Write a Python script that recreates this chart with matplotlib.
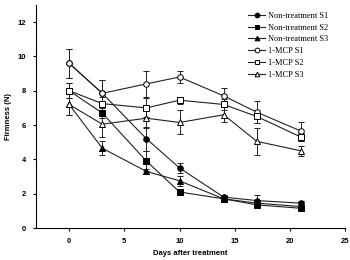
import matplotlib.pyplot as plt

# =========================================================
# DATA
# =========================================================

days = [0, 3, 7, 10, 14, 17, 21]

nt_s1 = [9.6, 7.85, 5.2, 3.5, 1.8, 1.6, 1.45]
nt_s2 = [8.0, 6.7, 3.9, 2.1, 1.7, 1.35, 1.15]
nt_s3 = [7.2, 4.65, 3.3, 2.75, 1.7, 1.45, 1.25]
mcp_s1 = [9.6, 7.85, 8.4, 8.8, 7.7, 6.75, 5.65]
mcp_s2 = [8.0, 7.25, 7.0, 7.45, 7.2, 6.5, 5.3]
mcp_s3 = [7.2, 6.05, 6.4, 6.15, 6.6, 5.05, 4.5]

nt_s1_err = [0.85, 0.8, 0.7, 0.3, 0.15, 0.3, 0.15]
nt_s2_err = [0.45, 0.3, 0.6, 0.15, 0.15, 0.15, 0.1]
nt_s3_err = [0.6, 0.4, 0.15, 0.3, 0.1, 0.15, 0.1]
mcp_s1_err = [0.85, 0.8, 0.75, 0.35, 0.45, 0.65, 0.55]
mcp_s2_err = [0.45, 0.4, 0.55, 0.2, 0.3, 0.4, 0.25]
mcp_s3_err = [0.6, 0.75, 0.6, 0.7, 0.45, 0.8, 0.3]

labels = ["Non-treatment S1", "Non-treatment S2", "Non-treatment S3",
          "1-MCP S1", "1-MCP S2", "1-MCP S3"]

# =========================================================
# PLOT
# =========================================================

fig = plt.figure(figsize=(3.5, 2.6), dpi=100)
ax = fig.add_axes([0.103, 0.123, 0.883, 0.858])

series = [
    (nt_s1, nt_s1_err, "o", "black"),
    (nt_s2, nt_s2_err, "s", "black"),
    (nt_s3, nt_s3_err, "^", "black"),
    (mcp_s1, mcp_s1_err, "o", "white"),
    (mcp_s2, mcp_s2_err, "s", "white"),
    (mcp_s3, mcp_s3_err, "^", "white"),
]

for (vals, errs, mk, fc), lab in zip(series, labels):
    ax.errorbar(days, vals, yerr=errs, marker=mk, markersize=4,
                markerfacecolor=fc, markeredgecolor="black",
                markeredgewidth=0.7, color="#222222", linewidth=0.8,
                ecolor="#222222", elinewidth=0.7, capsize=2.5,
                capthick=0.7, label=lab)

ax.set_xlim(-3, 25)
ax.set_ylim(0, 13)
ax.set_xticks([0, 5, 10, 15, 20, 25])
ax.set_yticks([0, 2, 4, 6, 8, 10, 12])

for side in ["top", "right"]:
    ax.spines[side].set_visible(False)
for side in ["left", "bottom"]:
    ax.spines[side].set_linewidth(0.8)

ax.tick_params(direction="out", length=2.5, width=0.8, labelsize=5.5,
               pad=5)
for t in ax.get_xticklabels() + ax.get_yticklabels():
    t.set_fontweight("bold")
    t.set_family("Liberation Sans")

ax.set_xlabel("Days after treatment", fontsize=5.5, fontweight="bold",
              family="Liberation Sans", labelpad=3)
ax.set_ylabel("Firmness (N)", fontsize=5.5, fontweight="bold",
              family="Liberation Sans", labelpad=4)

handles, _ = ax.get_legend_handles_labels()
handles = [h[0] for h in handles]
ax.legend(handles, labels, loc="upper right", bbox_to_anchor=(0.965, 0.995),
          frameon=False, prop={"family": "Liberation Serif", "size": 6},
          handlelength=2.0, handletextpad=0.4, labelspacing=0.45,
          borderaxespad=0.3, markerscale=0.85)

plt.savefig("out.png", dpi=100)
plt.close()
